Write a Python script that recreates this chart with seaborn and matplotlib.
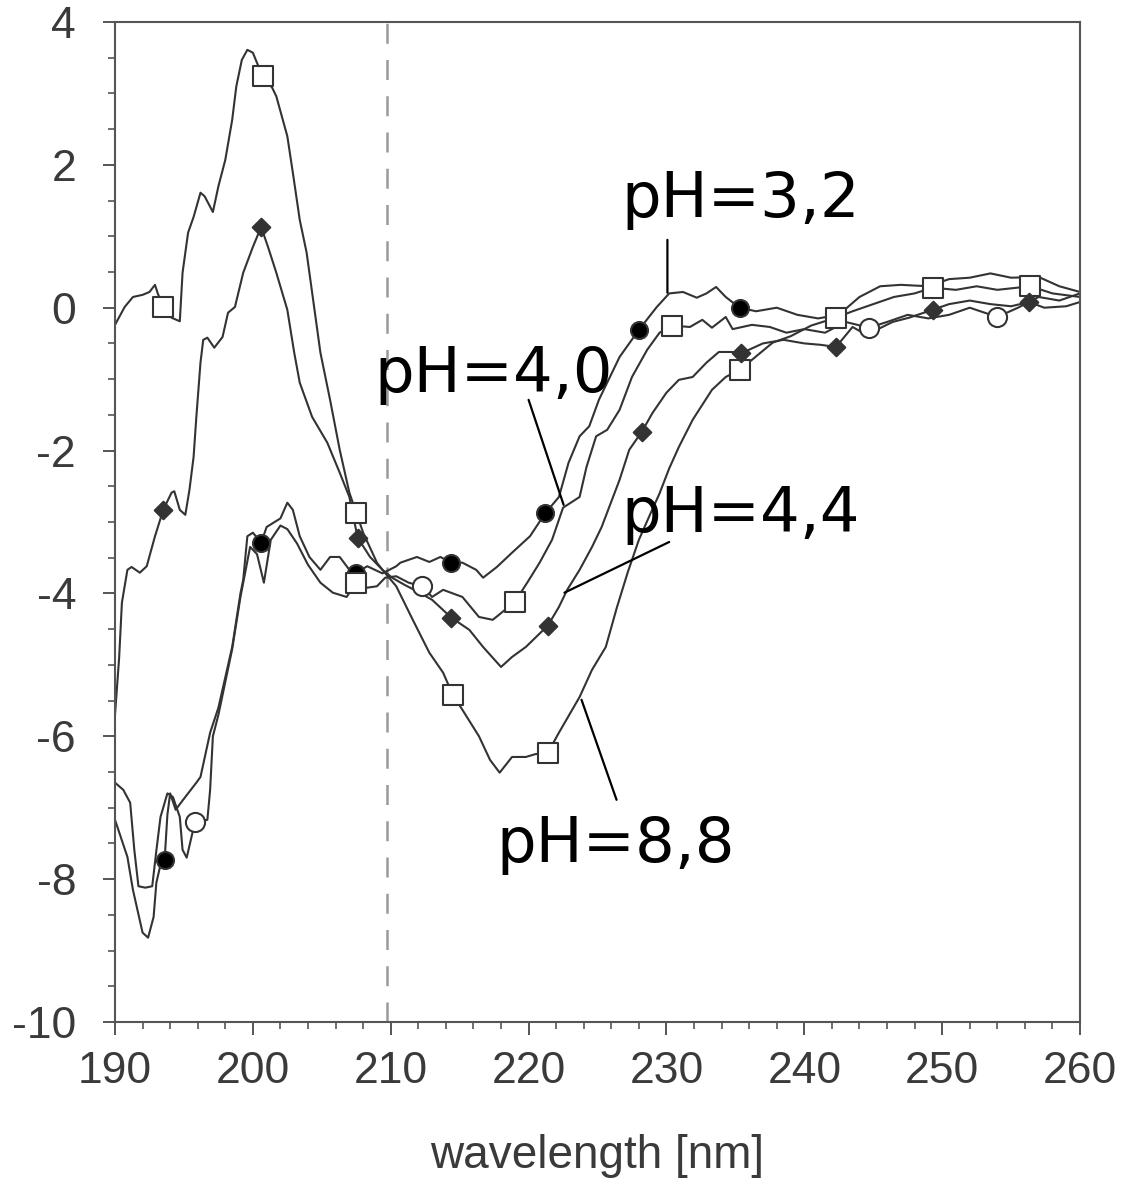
import numpy as np
import matplotlib
matplotlib.use("Agg")
import matplotlib.pyplot as plt
import seaborn as sns
from matplotlib.ticker import MultipleLocator

# ---------------- data ----------------
x_88 = [190.0, 190.7, 191.3, 192.0, 192.5, 192.9, 193.1, 193.5, 194.1, 194.7, 194.9, 195.3,
        195.7, 196.2, 196.5, 197.1, 197.5, 198.0, 198.5, 198.8, 199.2, 199.6, 200.0, 200.7,
        201.4, 201.7, 202.5, 202.9, 203.4, 203.9, 204.3, 204.9, 205.6, 206.3, 207.0, 207.5,
        208.0, 209.0, 209.4, 210.4, 211.6, 212.8, 213.8, 214.5, 215.2, 216.4, 217.2, 217.9,
        218.8, 219.8, 220.5, 221.4, 222.2, 223.7, 224.6, 225.6, 226.4, 227.2, 228.0, 228.8,
        229.5, 230.2, 230.9, 231.9, 233.3, 234.3, 235.3, 236.2, 237.7, 239.0, 240.5, 242.3,
        243.5, 245.0, 246.5, 248.0, 249.3, 251.0, 252.5, 254.0, 256.4, 258.0, 260.0]
y_88 = [-0.24, 0.01, 0.15, 0.18, 0.22, 0.32, 0.20, 0.01, -0.14, -0.19, 0.49, 1.05,
        1.27, 1.61, 1.56, 1.34, 1.70, 2.07, 2.63, 3.10, 3.47, 3.61, 3.57, 3.24,
        3.08, 2.96, 2.40, 1.89, 1.23, 0.77, 0.21, -0.63, -1.29, -1.99, -2.59, -2.87,
        -3.15, -3.57, -3.67, -3.90, -4.37, -4.83, -5.11, -5.42, -5.63, -6.00, -6.33, -6.51,
        -6.29, -6.29, -6.25, -6.23, -5.95, -5.45, -5.07, -4.75, -4.20, -3.70, -3.25, -2.90,
        -2.60, -2.25, -1.95, -1.57, -1.15, -0.97, -0.87, -0.73, -0.49, -0.40, -0.25, -0.14,
        -0.05, 0.05, 0.15, 0.20, 0.28, 0.25, 0.30, 0.25, 0.30, 0.20, 0.15]
mark_88 = [193.5, 200.7, 207.5, 214.5, 221.4, 235.3, 242.3, 249.3, 256.4]

x_44 = [190.0, 190.3, 190.5, 190.9, 191.2, 191.8, 192.3, 192.9, 193.5, 194.1, 194.3, 194.7,
        195.1, 195.4, 195.7, 195.9, 196.2, 196.4, 196.7, 197.2, 197.8, 198.2, 198.7, 199.3,
        200.0, 200.6, 201.1, 201.7, 202.5, 203.0, 203.4, 204.3, 205.4, 206.3, 207.0, 207.6,
        208.5, 209.4, 210.1, 211.0, 212.0, 213.0, 214.4, 215.7, 216.7, 218.0, 218.8, 219.8,
        221.4, 222.2, 222.8, 223.7, 224.6, 225.3, 226.6, 227.3, 228.2, 229.0, 230.0, 230.9,
        231.9, 232.9, 233.8, 234.8, 235.4, 237.0, 238.5, 240.0, 241.2, 242.3, 243.5, 244.5,
        246.4, 247.6, 249.3, 250.5, 252.0, 253.5, 255.0, 256.3, 257.4, 259.0, 260.0]
y_44 = [-5.70, -4.90, -4.13, -3.67, -3.63, -3.71, -3.62, -3.20, -2.83, -2.59, -2.57, -2.83,
        -2.90, -2.55, -2.09, -1.53, -0.77, -0.45, -0.42, -0.56, -0.41, -0.07, 0.01, 0.49,
        0.85, 1.13, 0.85, 0.49, -0.03, -0.63, -1.05, -1.53, -1.89, -2.31, -2.65, -3.22,
        -3.49, -3.67, -3.78, -3.88, -3.98, -4.09, -4.34, -4.51, -4.75, -5.03, -4.89, -4.75,
        -4.45, -4.19, -3.95, -3.67, -3.35, -3.07, -2.41, -1.99, -1.74, -1.47, -1.19, -1.01,
        -0.97, -0.77, -0.62, -0.62, -0.64, -0.50, -0.45, -0.50, -0.52, -0.55, -0.27, -0.38,
        -0.20, -0.14, -0.03, 0.05, 0.10, 0.05, 0.02, 0.08, 0.00, 0.02, 0.08]
mark_44 = [193.5, 200.6, 207.6, 214.4, 221.4, 228.2, 235.4, 242.3, 249.3, 256.3]

x_32 = [190.0, 190.9, 191.3, 192.0, 192.4, 192.8, 193.0, 193.3, 193.6, 193.8, 194.0, 194.4,
        194.9, 195.3, 195.9, 196.2, 196.9, 197.5, 198.5, 199.1, 199.3, 199.6, 200.0, 200.6,
        201.0, 201.5, 202.0, 202.5, 202.9, 203.4, 204.1, 204.9, 205.6, 206.3, 207.0, 207.5,
        208.3, 209.4, 210.4, 210.7, 211.9, 212.8, 213.6, 214.4, 215.2, 216.2, 216.7, 217.7,
        218.8, 220.1, 221.2, 222.2, 222.9, 223.7, 224.4, 225.1, 225.9, 226.6, 228.0, 229.3,
        230.2, 231.2, 232.2, 232.9, 233.6, 234.3, 235.3, 236.5, 238.0, 239.5, 241.0, 242.5,
        244.0, 245.5, 247.0, 249.0, 250.5, 252.0, 253.5, 255.0, 257.0, 258.5, 260.0]
y_32 = [-7.17, -7.69, -8.15, -8.75, -8.82, -8.53, -8.05, -7.80, -7.73, -7.10, -6.80, -7.03,
        -6.90, -6.80, -6.65, -6.57, -5.95, -5.60, -4.75, -4.00, -3.81, -3.20, -3.15, -3.29,
        -3.07, -3.01, -2.95, -2.73, -2.83, -3.20, -3.49, -3.67, -3.49, -3.49, -3.67, -3.71,
        -3.62, -3.72, -3.62, -3.57, -3.49, -3.56, -3.49, -3.57, -3.57, -3.67, -3.78, -3.63,
        -3.43, -3.20, -2.88, -2.65, -2.17, -1.80, -1.66, -1.29, -0.97, -0.69, -0.31, 0.01,
        0.20, 0.22, 0.14, 0.20, 0.29, 0.15, 0.00, -0.05, 0.00, -0.10, -0.15, -0.10,
        0.15, 0.30, 0.32, 0.30, 0.40, 0.42, 0.48, 0.42, 0.43, 0.30, 0.22]
mark_32 = [193.6, 200.6, 207.5, 214.4, 221.2, 228.0, 235.3]

x_40 = [190.0, 190.6, 191.1, 191.4, 191.7, 192.2, 192.7, 193.0, 193.3, 193.8, 194.2, 194.7,
        194.9, 195.2, 195.5, 195.8, 196.7, 196.9, 197.1, 197.5, 198.5, 199.1, 199.3, 199.8,
        200.3, 200.8, 201.3, 202.0, 202.5, 203.2, 204.0, 204.9, 205.8, 206.8, 207.5, 208.3,
        209.0, 209.6, 210.4, 211.3, 212.3, 213.0, 213.8, 215.2, 216.4, 217.4, 219.0, 219.9,
        220.8, 221.7, 222.5, 223.7, 224.2, 224.9, 225.7, 226.6, 227.5, 228.6, 229.5, 230.4,
        231.7, 232.6, 233.3, 234.3, 234.8, 236.2, 237.5, 238.7, 240.0, 241.5, 243.0, 244.7,
        246.0, 247.5, 249.0, 250.5, 252.0, 254.0, 255.5, 257.0, 258.5, 260.0]
y_40 = [-6.65, -6.75, -6.93, -7.59, -8.10, -8.12, -8.10, -7.60, -7.13, -6.80, -6.85, -7.13,
        -7.59, -7.70, -7.45, -7.20, -7.17, -6.75, -6.00, -5.70, -4.78, -4.05, -3.85, -3.35,
        -3.45, -3.85, -3.25, -3.05, -3.10, -3.30, -3.60, -3.85, -3.99, -4.05, -3.85, -3.92,
        -3.90, -3.78, -3.76, -3.85, -3.90, -4.05, -3.95, -4.05, -4.33, -4.37, -4.12, -3.85,
        -3.57, -3.25, -2.80, -2.65, -2.23, -1.80, -1.71, -1.43, -0.97, -0.59, -0.35, -0.25,
        -0.27, -0.17, -0.28, -0.13, -0.30, -0.24, -0.27, -0.35, -0.30, -0.35, -0.20, -0.28,
        -0.20, -0.10, -0.15, -0.10, 0.00, -0.13, 0.00, 0.15, 0.10, 0.20]
mark_40_circle = [195.8, 212.3, 244.7, 254.0]
mark_40_square = [207.5, 219.0, 230.4]

dashed_x = 209.75

labels = ["pH=3,2", "pH=4,0", "pH=4,4", "pH=8,8"]
label_pos = [(226.74, 1.27), (208.84, -1.18), (226.74, -3.14), (217.68, -7.76)]
pointer_start = [(230.07, 0.95), (220.0, -1.29), (230.2, -3.28), (223.84, -5.49)]
pointer_end = [(230.07, 0.21), (222.54, -2.76), (222.6, -3.99), (226.38, -6.89)]

x_ticks = [190, 200, 210, 220, 230, 240, 250, 260]
y_ticks = [-10, -8, -6, -4, -2, 0, 2, 4]
x_label = "wavelength [nm]"

# ---------------- style ----------------
sns.set_style("white")
plt.rcParams["font.family"] = ["Liberation Sans Narrow", "Liberation Sans", "DejaVu Sans"]
plt.rcParams["axes.unicode_minus"] = False

LINE = "#333333"
fig = plt.figure(figsize=(11.22, 11.89), dpi=100)
ax = fig.add_axes([0.1025, 0.1405, 0.8601, 0.841])

ax.axvline(dashed_x, color="#9a9a9a", lw=1.8, dashes=(8, 6.5), zorder=1)


def draw(xs, ys, marks, marker, face, size):
    xs = np.asarray(xs)
    ys = np.asarray(ys)
    sns.lineplot(x=xs, y=ys, ax=ax, sort=False, estimator=None,
                 color=LINE, lw=1.5, zorder=2)
    for mk, mrk, fc, sz in zip(marks, marker, face, size):
        idx = np.flatnonzero(np.isin(xs, mk))
        sns.scatterplot(x=xs[idx], y=ys[idx], ax=ax, marker=mrk, s=sz,
                        facecolor=fc, edgecolor=LINE, linewidth=1.5, zorder=3)


draw(x_88, y_88, [mark_88], ["s"], ["white"], [200])
draw(x_44, y_44, [mark_44], ["D"], [LINE], [80])
draw(x_32, y_32, [mark_32], ["o"], ["black"], [150])
draw(x_40, y_40, [mark_40_circle, mark_40_square], ["o", "s"], ["white", "white"], [190, 190])

for txt, (tx, ty), s0, s1 in zip(labels, label_pos, pointer_start, pointer_end):
    ax.text(tx, ty, txt, fontsize=45, family="DejaVu Sans", ha="left", va="baseline",
            color="black", zorder=5)
    ax.annotate("", xy=s1, xytext=s0,
                arrowprops=dict(arrowstyle="-", lw=1.6, color="black",
                                shrinkA=0, shrinkB=0), zorder=5)

ax.set_xlim(190, 260)
ax.set_ylim(-10, 4)
ax.set_xticks(x_ticks)
ax.set_yticks(y_ticks)
ax.xaxis.set_minor_locator(MultipleLocator(2))
ax.yaxis.set_minor_locator(MultipleLocator(0.5))
ax.tick_params(axis="both", which="both", bottom=True, left=True, top=False, right=False)
ax.tick_params(axis="both", which="major", direction="out", length=9, width=1.4,
               color="#555555", labelsize=32, labelcolor="#3a3a3a")
ax.tick_params(axis="both", which="minor", direction="out", length=5, width=1.2,
               color="#555555")
ax.tick_params(axis="x", which="major", pad=12)
ax.tick_params(axis="y", which="major", pad=19)
ax.set_xlabel(x_label, fontsize=33, color="#3a3a3a", labelpad=30)
ax.set_ylabel("")
for sp in ax.spines.values():
    sp.set_visible(True)
    sp.set_color("#555555")
    sp.set_linewidth(1.5)

fig.savefig("out.png", dpi=100)
